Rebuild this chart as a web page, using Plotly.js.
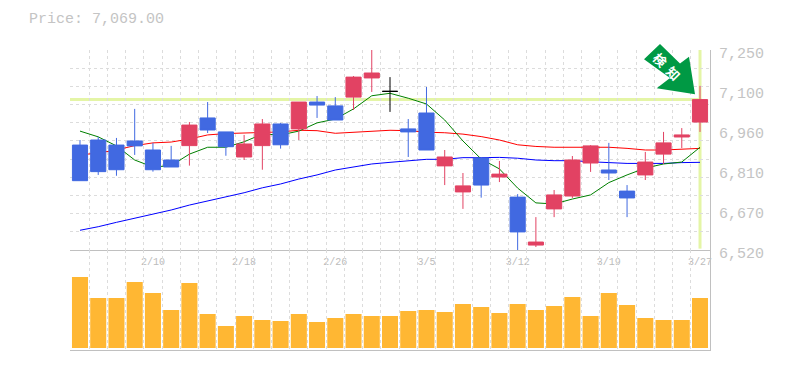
<!DOCTYPE html>
<html><head><meta charset="utf-8">
<script src="https://cdn.plot.ly/plotly-3.0.1.min.js"></script>
<style>html,body{margin:0;padding:0;background:#fff}</style></head>
<body><div id="chart" style="width:785px;height:370px"></div>
<script>
const tickPositions=[4,9,14,19,24,29,34];
const tickDates=['2/10','2/18','2/26','3/5','3/12','3/19','3/27'];
const priceTicks=[7250,7104,6958,6812,6666,6520];
const priceTickText=['7,250','7,100','6,960','6,810','6,670','6,520'];
const lastPrice=7069;
const opens=[6903,6921.5,6903,6918,6885,6848.5,6901,7002,6951,6859.5,6901,6980,6962,7060,7046,7078,7148,7099,6962,7020,6827,6732,6856,6786.5,6713,6538,6670,6717,6837.5,6812,6735,6794,6870,6932.5,6987];
const highs=[6921.5,6932.5,6929,7035,6911,6900,6987,7060,6951,6940,6998,6983.5,7060,7082,7078,7155,7250,7151,6998,7115,6885,6801,6856,6845,6724,6640,6739,6863,6903,6911,6757,6878,6951,6965,7119];
const lows=[6773,6794,6791,6867,6806,6823,6828,6947,6864,6848.5,6813,6890,6921.5,7002,6994.5,7031,7097,7024,6859.5,6885,6757,6670,6711,6768,6517,6531,6640,6710,6805,6775.5,6640,6775.5,6834,6892,6951];
const closes=[6773,6806,6813,6900,6813,6823,6976,6958,6897,6907,6980,6904,7060,7049,6994.5,7151,7166,7099,6951,6885,6859.5,6754,6757,6797,6586,6549,6721,6848.5,6900,6801,6710,6841,6911,6940,7069];
const dojiIndex=17;
const maShort=[6954,6933,6900,6848.5,6823,6828,6870,6895,6895,6915,6943,6940,6954,6984,6998,7035,7083,7092,7074,7053,6994.5,6918,6852,6816,6746,6692,6688,6706,6721,6766,6794,6819,6834,6841,6895];
const maMid=[6867,6874,6885,6901,6911,6914,6925,6940,6945,6947,6951,6951,6957,6955.5,6946,6950,6954,6957,6955.5,6950,6948,6943,6934,6921.5,6904,6898,6895,6895,6895,6895,6891,6885,6885,6889,6891];
const maLong=[6592,6605,6621,6636,6651,6666,6684,6699,6712,6729,6747,6761,6779,6794,6812,6824,6834,6840,6846,6851,6851,6857,6857,6858,6855,6848.5,6846,6846,6842,6839,6836,6836,6836,6839,6840];
const volumes=[71,50,50,66,55,38,65,34,22,32,28,27,34,26,30,34,32,32,37,38,36,44,41,35,44,38,42,51,32,55,43,30,28,28,50];

const idx=volumes.map((_,i)=>i);
const mainIdx=idx.filter(i=>i!==dojiIndex);
const pick=(a,ids)=>ids.map(i=>a[i]);
const W=785,H=370,L=70,R=710,T=50,B=350;
const px=x=>(x-L)/(R-L), py=y=>(B-y)/(B-T);
const arrow=[[660,44],[680,63.5],[689,56.7],[695,94.3],[656.7,88.3],[670,78],[644,59.3]];
const arrowPath=arrow.map((p,i)=>(i?'L':'M')+px(p[0])+','+py(p[1])).join(' ')+' Z';
const grid={gridcolor:'#dcdcdc',griddash:'3px,3px',gridwidth:1,showgrid:true,ticks:''};
const xRange=[-0.548,34.548];
const font='Liberation Mono, monospace';

const traces=[
 {type:'scatter',mode:'lines',x:idx,y:maLong,xaxis:'x',yaxis:'y',line:{color:'#0000ff',width:1}},
 {type:'scatter',mode:'lines',x:idx,y:maMid,xaxis:'x',yaxis:'y',line:{color:'#ff0000',width:1}},
 {type:'scatter',mode:'lines',x:idx,y:maShort,xaxis:'x',yaxis:'y',line:{color:'#008000',width:1}},
 {type:'candlestick',x:mainIdx,open:pick(opens,mainIdx),high:pick(highs,mainIdx),low:pick(lows,mainIdx),close:pick(closes,mainIdx),xaxis:'x',yaxis:'y3',whiskerwidth:0,
  increasing:{line:{color:'#e24263',width:1},fillcolor:'#e24263'},
  decreasing:{line:{color:'#4169e1',width:1},fillcolor:'#4169e1'}},
 {type:'candlestick',x:[dojiIndex],open:[opens[dojiIndex]],high:[highs[dojiIndex]],low:[lows[dojiIndex]],close:[closes[dojiIndex]],xaxis:'x',yaxis:'y3',whiskerwidth:0,
  increasing:{line:{color:'#000000',width:1},fillcolor:'#000000'},
  decreasing:{line:{color:'#000000',width:1},fillcolor:'#000000'}},
 {type:'bar',x:idx,y:volumes,xaxis:'x2',yaxis:'y2',marker:{color:'#ffb733',line:{width:0}}}
];
const layout={
 width:W,height:H,margin:{l:L,r:W-R,t:T,b:H-B},paper_bgcolor:'#fff',plot_bgcolor:'#fff',showlegend:false,
 bargap:0.12,boxgap:0.17,boxgroupgap:0,
 title:{text:'Price: 7,069.00',x:29/W,xanchor:'left',xref:'container',y:1-18/H,yanchor:'middle',yref:'container',font:{family:font,size:15,color:'#c4c4c4'}},
 xaxis:{domain:[0,1],range:xRange,anchor:'y',tickmode:'array',tickvals:tickPositions,ticktext:tickDates,showgrid:false,ticks:'',
  tickfont:{family:font,size:10,color:'#bcbcbc'},ticklabelstandoff:2,showline:true,linecolor:'#c0c0c0',linewidth:1,zeroline:false,rangeslider:{visible:false},
  minor:Object.assign({tick0:-0.5,dtick:1},grid)},
 xaxis2:{domain:[0,1],range:xRange,anchor:'y2',showticklabels:false,showgrid:false,ticks:'',showline:true,linecolor:'#c0c0c0',linewidth:1,zeroline:false,
  minor:Object.assign({tick0:-0.5,dtick:1},grid)},
 yaxis:{domain:[1/3,1],range:[6520,7250],anchor:'x',side:'right',tickmode:'array',tickvals:priceTicks,ticktext:priceTickText,showgrid:false,ticks:'',
  tickfont:{family:font,size:15,color:'#c4c4c4'},ticklabelshift:3,ticklabelstandoff:5,showline:true,linecolor:'#c0c0c0',linewidth:1,zeroline:false,
  minor:Object.assign({tick0:6520,dtick:730/11},grid)},
 yaxis3:{domain:[1/3,1],range:[6520,7250],overlaying:'y',anchor:'x',side:'right',showticklabels:false,showgrid:false,ticks:'',zeroline:false,showline:false},
 yaxis2:{domain:[0,1/3],range:[-2,98],anchor:'x2',side:'right',showticklabels:false,showgrid:false,ticks:'',zeroline:false,showline:true,linecolor:'#c0c0c0',linewidth:1},
 shapes:[
  {type:'line',layer:'below',xref:'x',yref:'y',x0:xRange[0],x1:idx[idx.length-1]+0.08,y0:lastPrice,y1:lastPrice,line:{color:'#e4f5a6',width:3}},
  {type:'line',layer:'below',xref:'x',yref:'y',x0:idx[idx.length-1],x1:idx[idx.length-1],y0:6525,y1:7250,line:{color:'#e4f5a6',width:3}},
  {type:'path',layer:'above',xref:'paper',yref:'paper',path:arrowPath,fillcolor:'#009944',line:{width:0}}
 ],
 annotations:[{xref:'x',yref:'y',x:32.19,y:7190,xanchor:'center',yanchor:'middle',text:'<b>検&nbsp;&nbsp;知</b>',showarrow:false,textangle:45,font:{family:'Noto Sans CJK JP',size:13,color:'#ffffff'}}]
};
Plotly.newPlot('chart',traces,layout,{displayModeBar:false});
</script></body></html>
